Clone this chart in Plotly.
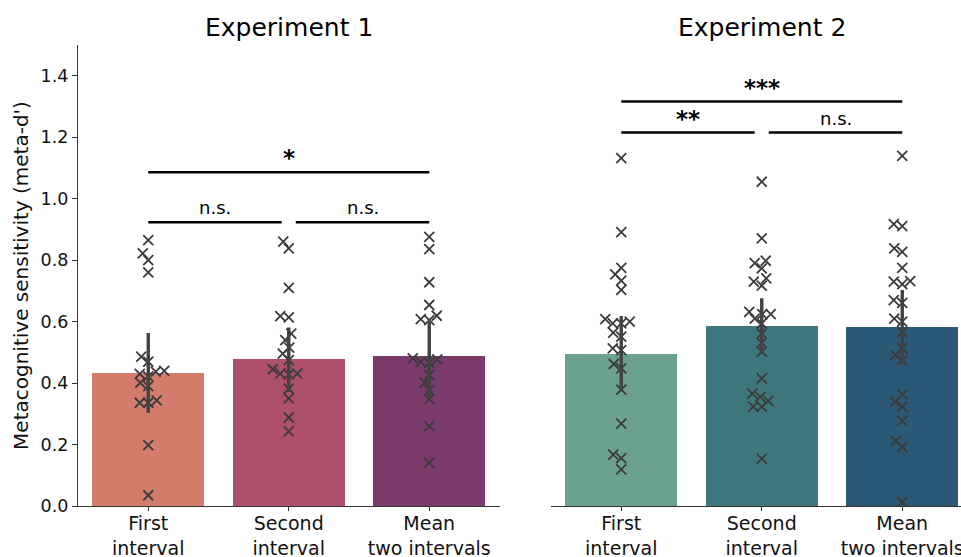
import numpy as np
import plotly.graph_objects as go

# ---- data -------------------------------------------------------------
conditions = ["First<br>interval", "Second<br>interval", "Mean<br>two intervals"]
experiments = ["Experiment 1", "Experiment 2"]

exp1_first = [0.865, 0.822, 0.800, 0.760, 0.486, 0.470, 0.437, 0.440, 0.422, 0.430,
              0.401, 0.390, 0.344, 0.336, 0.336, 0.198, 0.035]
exp1_second = [0.860, 0.838, 0.710, 0.618, 0.614, 0.561, 0.540, 0.515, 0.496, 0.475,
               0.445, 0.428, 0.431, 0.431, 0.382, 0.350, 0.288, 0.243]
exp1_mean = [0.876, 0.836, 0.728, 0.654, 0.608, 0.619, 0.605, 0.480, 0.466, 0.469,
             0.477, 0.426, 0.401, 0.377, 0.348, 0.260, 0.140]

exp2_first = [1.132, 0.891, 0.775, 0.754, 0.733, 0.703, 0.608, 0.594, 0.600, 0.594,
              0.564, 0.551, 0.513, 0.507, 0.462, 0.448, 0.379, 0.268, 0.167, 0.156, 0.119]
exp2_second = [1.055, 0.871, 0.790, 0.798, 0.773, 0.730, 0.741, 0.717, 0.632, 0.610,
               0.624, 0.624, 0.594, 0.561, 0.531, 0.502, 0.415, 0.366, 0.355, 0.342,
               0.323, 0.323, 0.154]
exp2_mean = [1.139, 0.917, 0.911, 0.838, 0.827, 0.775, 0.730, 0.722, 0.732, 0.670,
             0.661, 0.610, 0.600, 0.567, 0.513, 0.491, 0.475, 0.363, 0.339, 0.323,
             0.277, 0.211, 0.192, 0.013]

exp1_bar = [0.432, 0.478, 0.488]
exp1_ci_low = [0.303, 0.371, 0.355]
exp1_ci_high = [0.563, 0.581, 0.599]

exp2_bar = [0.494, 0.586, 0.582]
exp2_ci_low = [0.377, 0.496, 0.461]
exp2_ci_high = [0.618, 0.676, 0.703]

# significance brackets: (experiment index, from, to, height, label)
brackets = [
    (0, 0, 0.95, 0.923, "n.s."),
    (0, 1.05, 2, 0.923, "n.s."),
    (0, 0, 2, 1.086, "*"),
    (1, 0, 0.95, 1.215, "**"),
    (1, 1.05, 2, 1.215, "n.s."),
    (1, 0, 2, 1.316, "***"),
]

palettes = [
    ["#d47c6c", "#ae506c", "#7a3a6a"],
    ["#6aa28e", "#3e787d", "#2c5978"],
]

points = [[exp1_first, exp1_second, exp1_mean], [exp2_first, exp2_second, exp2_mean]]
bars = [exp1_bar, exp2_bar]
ci_low = [exp1_ci_low, exp2_ci_low]
ci_high = [exp1_ci_high, exp2_ci_high]

# ---- layout geometry --------------------------------------------------
W, H = 961, 557
ML, MR, MT, MB = 78, 0, 45, 51
plot_w = W - ML - MR
plot_h = H - MT - MB
Y_MAX = 1.5
px_per_cat = (499.5 - ML) / 3.0
px_per_y = plot_h / Y_MAX
dom1 = [0.0, (499.5 - ML) / plot_w]
dom2 = [(551 - ML) / plot_w, 1.0]
x2_max = -0.5 + (W - 551) / px_per_cat


def swarm_offsets(values, diameter=8.5):
    """Beeswarm layout: place each point as close to the centre as possible."""
    vals = np.asarray(values, dtype=float)
    order = np.argsort(vals, kind="stable")
    placed = []
    offsets = np.zeros(len(vals))
    steps = [0.0]
    for k in range(1, 60):
        steps += [-0.5 * k, 0.5 * k]
    for i in order:
        y = vals[i] * px_per_y
        for c in steps:
            if all((c - px) ** 2 + (y - py) ** 2 >= diameter ** 2 for px, py in placed):
                break
        placed.append((c, y))
        offsets[i] = c / px_per_cat
    return offsets


fig = go.Figure()
FONT = "DejaVu Sans"
INK = "#3b3b3b"

for e in range(2):
    xa = "x" if e == 0 else "x2"
    ya = "y" if e == 0 else "y2"
    fig.add_trace(go.Bar(
        x=[0, 1, 2], y=bars[e], width=0.8,
        marker=dict(color=palettes[e], line=dict(width=0)),
        xaxis=xa, yaxis=ya, showlegend=False, hoverinfo="skip",
    ))
    for c in range(3):
        vals = points[e][c]
        offs = swarm_offsets(vals)
        fig.add_trace(go.Scatter(
            x=c + offs, y=vals, mode="markers",
            marker=dict(symbol="x-thin", size=10, line=dict(width=1.8, color=INK)),
            xaxis=xa, yaxis=ya, showlegend=False, hoverinfo="skip",
        ))
    means = np.array(bars[e])
    fig.add_trace(go.Scatter(
        x=[0, 1, 2], y=bars[e], mode="markers",
        marker=dict(size=1, color="rgba(0,0,0,0)"),
        error_y=dict(type="data", symmetric=False,
                     array=np.array(ci_high[e]) - means,
                     arrayminus=means - np.array(ci_low[e]),
                     width=0, thickness=3.4, color="#424242"),
        xaxis=xa, yaxis=ya, showlegend=False, hoverinfo="skip",
    ))

shapes = []
annotations = []
for e, x0, x1, yv, label in brackets:
    xa = "x" if e == 0 else "x2"
    ya = "y" if e == 0 else "y2"
    shapes.append(dict(type="line", xref=xa, yref=ya, x0=x0, x1=x1, y0=yv, y1=yv,
                       line=dict(color="black", width=2.5)))
    is_star = "*" in label
    annotations.append(dict(
        xref=xa, yref=ya, x=(x0 + x1) / 2, y=yv, text=label, showarrow=False,
        yanchor="bottom", yshift=-1 if is_star else 2,
        font=dict(family=FONT, size=23 if is_star else 18, color="black",
                  weight="bold" if is_star else "normal"),
    ))

for e, name in enumerate(experiments):
    annotations.append(dict(
        xref="x" if e == 0 else "x2", yref="paper", x=1, y=1 + 18 / plot_h,
        text=name, showarrow=False, yanchor="middle",
        font=dict(family=FONT, size=25, color="black"),
    ))

axis_common = dict(
    tickvals=[0, 1, 2], ticktext=conditions, showgrid=False, zeroline=False,
    showline=True, linecolor="#333333", linewidth=1.2,
    ticks="outside", ticklen=4, tickcolor="#333333", tickwidth=1.2,
    tickfont=dict(family=FONT, size=19, color="#111111"),
    automargin=False, ticklabeloverflow="allow", ticklabelstandoff=-4,
)

fig.update_layout(
    width=W, height=H,
    margin=dict(l=ML, r=MR, t=MT, b=MB),
    paper_bgcolor="white", plot_bgcolor="white",
    bargap=0,
    xaxis=dict(domain=dom1, range=[-0.5, 2.5], anchor="y", **axis_common),
    xaxis2=dict(domain=dom2, range=[-0.5, x2_max], anchor="y2", **axis_common),
    yaxis=dict(
        range=[0, Y_MAX], tickvals=[0, 0.2, 0.4, 0.6, 0.8, 1.0, 1.2, 1.4],
        ticktext=["0.0", "0.2", "0.4", "0.6", "0.8", "1.0", "1.2", "1.4"],
        showgrid=False, zeroline=False, showline=True, linecolor="#333333",
        linewidth=1.2, ticks="outside", ticklen=5, tickcolor="#333333",
        tickwidth=1.2, tickfont=dict(family=FONT, size=17.5, color="#111111"),
        title=dict(text="Metacognitive sensitivity (meta-d')",
                   font=dict(family=FONT, size=20, color="#111111"), standoff=6),
        anchor="x", automargin=False,
    ),
    yaxis2=dict(range=[0, Y_MAX], matches="y", visible=False, anchor="x2"),
    shapes=shapes,
    annotations=annotations,
)

fig.write_html("out.html")
